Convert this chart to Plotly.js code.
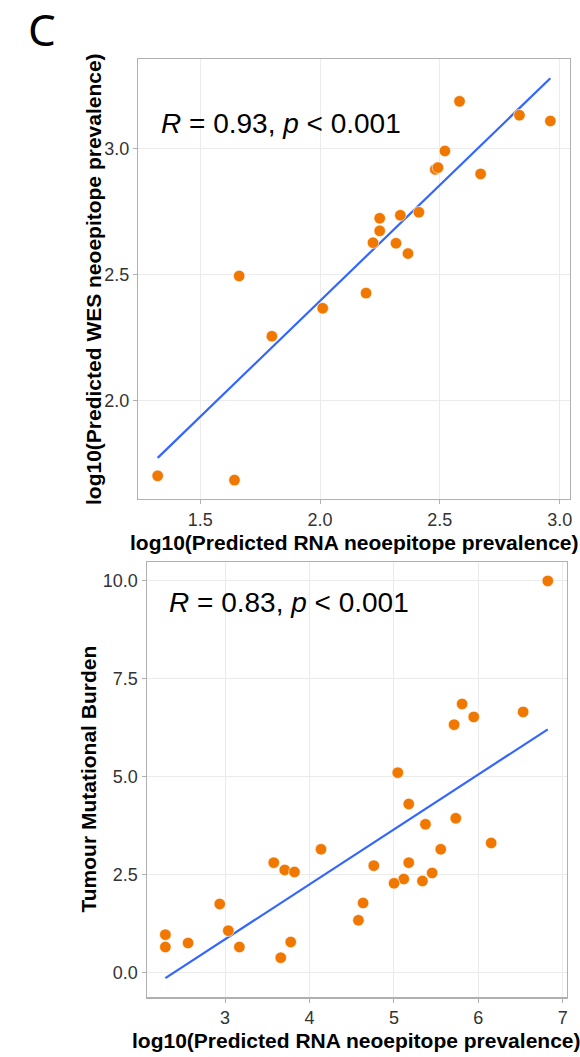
<!DOCTYPE html>
<html>
<head>
<meta charset="utf-8">
<script src="https://cdn.plot.ly/plotly-3.0.1.min.js"></script>
<style>html,body{margin:0;padding:0;background:#fff;}#chart{width:580px;height:1057px;}</style>
</head>
<body>
<div id="chart"></div>
<script>
// Panel 1: RNA vs WES predicted neoepitope prevalence (log10)
const rnaTop = [2.582, 2.832, 2.961, 2.521, 2.481, 2.492, 2.670, 2.4125, 2.335, 2.249, 2.249, 2.221, 2.317, 2.367, 1.6625, 2.192, 2.011, 1.799, 1.3225, 1.643];
const wesTop = [3.186, 3.131, 3.108, 2.989, 2.916, 2.923, 2.898, 2.746, 2.734, 2.722, 2.672, 2.625, 2.623, 2.582, 2.493, 2.425, 2.365, 2.254, 1.700, 1.683];
// Panel 2: RNA prevalence vs tumour mutational burden
const rnaBot = [6.823, 5.808, 6.531, 5.946, 5.713, 5.046, 5.176, 5.733, 5.374, 6.152, 4.137, 5.555, 3.577, 5.176, 3.707, 3.822, 4.762, 5.453, 5.117, 5.338, 5.002, 2.937, 4.635, 4.580, 2.293, 3.039, 2.562, 3.778, 2.293, 3.170, 3.660];
const tmbBot = [10.0, 6.862, 6.658, 6.531, 6.334, 5.110, 4.311, 3.946, 3.793, 3.316, 3.155, 3.155, 2.814, 2.814, 2.628, 2.577, 2.737, 2.551, 2.398, 2.347, 2.288, 1.760, 1.786, 1.344, 0.977, 1.079, 0.765, 0.791, 0.663, 0.663, 0.390];

const xTicksTop = [1.5, 2.0, 2.5, 3.0];
const xTickTextTop = ['1.5', '2.0', '2.5', '3.0'];
const yTicksTop = [2.0, 2.5, 3.0];
const yTickTextTop = ['2.0', '2.5', '3.0'];
const xTicksBot = [3, 4, 5, 6, 7];
const xTickTextBot = ['3', '4', '5', '6', '7'];
const yTicksBot = [0, 2.5, 5, 7.5, 10];
const yTickTextBot = ['0.0', '2.5', '5.0', '7.5', '10.0'];

const statTop = '<i>R</i> = 0.93, <i>p</i> &lt; 0.001';
const statBot = '<i>R</i> = 0.83, <i>p</i> &lt; 0.001';
const xTitle = 'log10(Predicted RNA neoepitope prevalence)';
const yTitleTop = 'log10(Predicted WES neoepitope prevalence)';
const yTitleBot = 'Tumour Mutational Burden';

function olsLine(x, y) {
  const n = x.length;
  const mx = x.reduce((a, b) => a + b, 0) / n;
  const my = y.reduce((a, b) => a + b, 0) / n;
  let sxy = 0, sxx = 0;
  for (let i = 0; i < n; i++) { sxy += (x[i] - mx) * (y[i] - my); sxx += (x[i] - mx) ** 2; }
  const b = sxy / sxx, a = my - b * mx;
  const x0 = Math.min(...x), x1 = Math.max(...x);
  return { x: [x0, x1], y: [a + b * x0, a + b * x1] };
}

const W = 580, H = 1057;
const fx = p => p / W;
const fy = p => 1 - p / H;

const orange = '#F07800';
const blue = '#3366FF';
const fitTop = olsLine(rnaTop, wesTop);
const fitBot = olsLine(rnaBot, tmbBot);

const marker = { size: 11.5, color: orange, line: { color: '#ffffff', width: 0.6 } };

const data = [
  { x: fitTop.x, y: fitTop.y, mode: 'lines', line: { color: blue, width: 2.2 }, xaxis: 'x', yaxis: 'y', hoverinfo: 'skip' },
  { x: rnaTop, y: wesTop, mode: 'markers', marker: marker, xaxis: 'x', yaxis: 'y' },
  { x: fitBot.x, y: fitBot.y, mode: 'lines', line: { color: blue, width: 2.2 }, xaxis: 'x2', yaxis: 'y2', hoverinfo: 'skip' },
  { x: rnaBot, y: tmbBot, mode: 'markers', marker: marker, xaxis: 'x2', yaxis: 'y2' }
];

const tickFont = { family: 'Liberation Sans, Arial, sans-serif', size: 18, color: '#333333' };
const axBase = {
  showline: true, mirror: true, linecolor: '#b0b0b0', linewidth: 1.2,
  showgrid: true, gridcolor: '#ebebeb', gridwidth: 1,
  zeroline: false, ticks: 'outside', ticklen: 4, tickcolor: '#b0b0b0', tickwidth: 1,
  tickfont: tickFont, tickmode: 'array', automargin: false
};

const titleFont = { family: 'Liberation Sans, Arial, sans-serif', size: 21, color: '#000000', weight: 'bold' };

const layout = {
  width: W, height: H,
  margin: { l: 0, r: 0, t: 0, b: 0 },
  paper_bgcolor: '#ffffff', plot_bgcolor: '#ffffff',
  showlegend: false,
  xaxis: Object.assign({}, axBase, { domain: [fx(138), fx(570)], range: [1.2404, 3.043], tickvals: xTicksTop, ticktext: xTickTextTop, anchor: 'y' }),
  yaxis: Object.assign({}, axBase, { domain: [fy(499), fy(59)], range: [1.608, 3.354], tickvals: yTicksTop, ticktext: yTickTextTop, anchor: 'x' }),
  xaxis2: Object.assign({}, axBase, { domain: [fx(146.7), fx(566.7)], range: [2.072, 7.047], tickvals: xTicksBot, ticktext: xTickTextBot, anchor: 'y2' }),
  yaxis2: Object.assign({}, axBase, { domain: [fy(997.3), fy(561.7)], range: [-0.62, 10.49], tickvals: yTicksBot, ticktext: yTickTextBot, anchor: 'x2' }),
  annotations: [
    { text: 'C', xref: 'paper', yref: 'paper', x: fx(42), y: fy(29), xanchor: 'center', yanchor: 'middle', showarrow: false,
      font: { family: 'Noto Sans, DejaVu Sans, sans-serif', size: 44, color: '#000' } },
    { text: statTop, xref: 'x', yref: 'y', x: 1.328, y: 3.10, xanchor: 'left', yanchor: 'middle', showarrow: false,
      font: { family: 'Liberation Sans, Arial, sans-serif', size: 28, color: '#000' } },
    { text: statBot, xref: 'x2', yref: 'y2', x: 2.309, y: 9.45, xanchor: 'left', yanchor: 'middle', showarrow: false,
      font: { family: 'Liberation Sans, Arial, sans-serif', size: 28, color: '#000' } },
    { text: xTitle, xref: 'paper', yref: 'paper', x: fx(354), y: fy(542), xanchor: 'center', yanchor: 'middle', showarrow: false, font: titleFont },
    { text: xTitle, xref: 'paper', yref: 'paper', x: fx(356.7), y: fy(1040), xanchor: 'center', yanchor: 'middle', showarrow: false, font: titleFont },
    { text: yTitleTop, xref: 'paper', yref: 'paper', x: fx(93), y: fy(279), xanchor: 'center', yanchor: 'middle', textangle: -90, showarrow: false, font: titleFont },
    { text: yTitleBot, xref: 'paper', yref: 'paper', x: fx(88), y: fy(779.5), xanchor: 'center', yanchor: 'middle', textangle: -90, showarrow: false, font: titleFont }
  ]
};

Plotly.newPlot('chart', data, layout, { staticPlot: true, displayModeBar: false });
</script>
</body>
</html>
